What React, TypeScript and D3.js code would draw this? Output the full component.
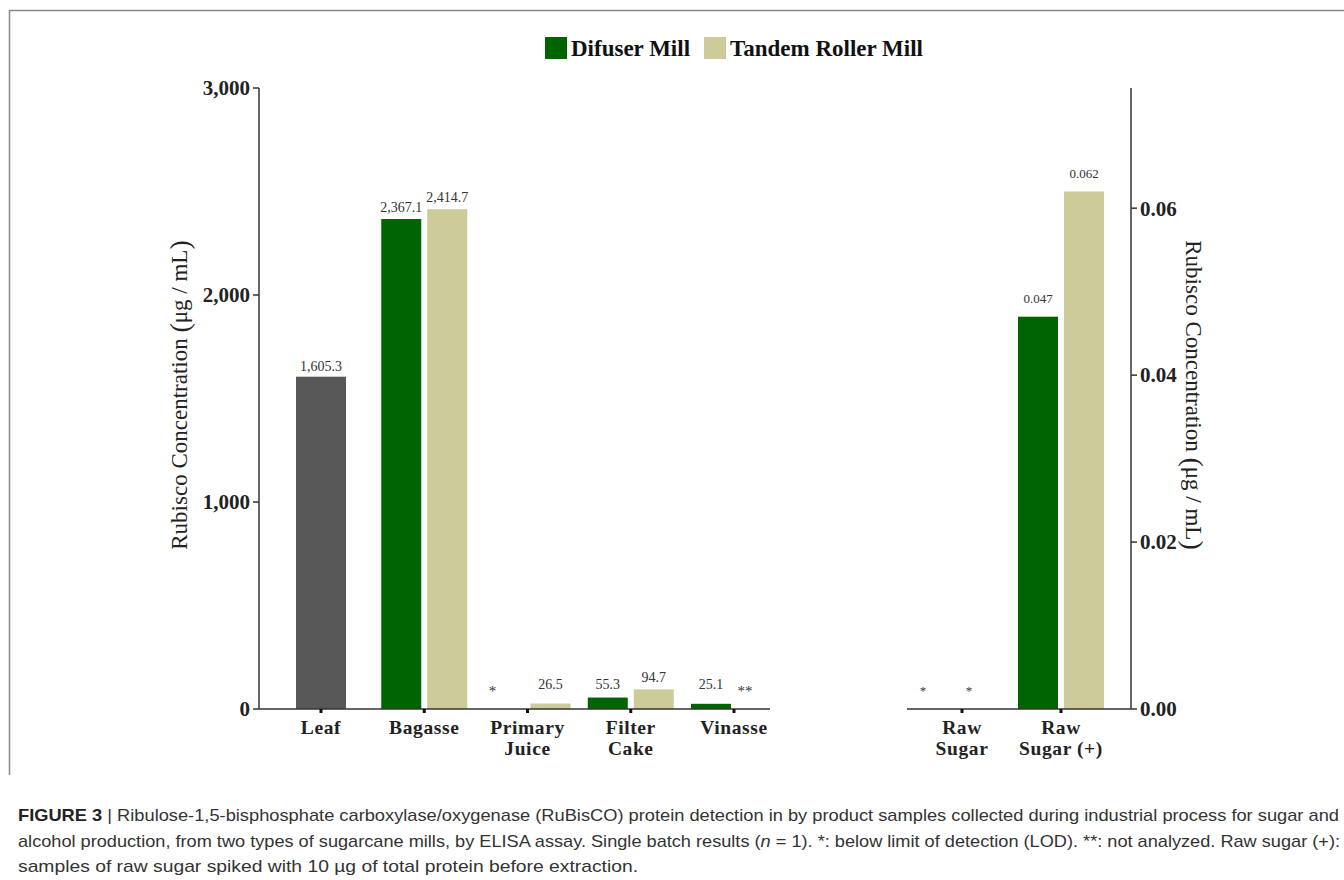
import React from "react";
import * as d3 from "d3";

const leftCategories = ["Leaf", "Bagasse", "Primary Juice", "Filter Cake", "Vinasse"];
const leftCategoryLines = [["Leaf"], ["Bagasse"], ["Primary", "Juice"], ["Filter", "Cake"], ["Vinasse"]];
const leafValues: (number | null)[] = [1605.3, null, null, null, null];
const difuserLeft: (number | null)[] = [null, 2367.1, null, 55.3, 25.1];
const tandemLeft: (number | null)[] = [null, 2414.7, 26.5, 94.7, null];
const difuserLeftNotes = ["", "", "*", "", ""];
const tandemLeftNotes = ["", "", "", "", "**"];

const rightCategories = ["Raw Sugar", "Raw Sugar (+)"];
const rightCategoryLines = [["Raw", "Sugar"], ["Raw", "Sugar (+)"]];
const difuserRight: (number | null)[] = [null, 0.047];
const tandemRight: (number | null)[] = [null, 0.062];
const difuserRightNotes = ["*", ""];
const tandemRightNotes = ["*", ""];

const leftTicks = [0, 1000, 2000, 3000];
const rightTicks = [0, 0.02, 0.04, 0.06];
const seriesNames = ["Difuser Mill", "Tandem Roller Mill"];

const captionLines = [
  "| Ribulose-1,5-bisphosphate carboxylase/oxygenase (RuBisCO) protein detection in by product samples collected during industrial process for sugar and",
  "alcohol production, from two types of sugarcane mills, by ELISA assay. Single batch results (",
  "samples of raw sugar spiked with 10 µg of total protein before extraction.",
];

const GREEN = "#006400";
const TAN = "#cdcb9a";
const GRAY = "#575757";
const AXIS = "#333";
const SERIF = "'Liberation Serif', 'Times New Roman', serif";
const SANS = "'Liberation Sans', Arial, sans-serif";

export default function App() {
  const y0 = 709;
  const yL = d3.scaleLinear().domain([0, 3000]).range([y0, 88]);
  const yR = d3.scaleLinear().domain([0, 0.0744]).range([y0, 88]);
  const xL = d3.scalePoint<string>().domain(leftCategories).range([321, 734]);
  const xR = d3.scalePoint<string>().domain(rightCategories).range([962, 1061]);
  const fmtL = d3.format(",.1f");
  const fmtR = d3.format(".3f");
  const fmtTickL = d3.format(",");
  const fmtTickR = d3.format(".2f");
  const bw = 40;
  const gap = 3;

  const bars: JSX.Element[] = [];
  const labels: JSX.Element[] = [];

  leftCategories.forEach((c, i) => {
    const cx = xL(c)!;
    const lv = leafValues[i];
    if (lv != null) {
      bars.push(<rect key={"leaf" + i} x={cx - 25} width={50} y={yL(lv)} height={y0 - yL(lv)} fill={GRAY} />);
      labels.push(<text key={"leafl" + i} x={cx} y={yL(lv) - 6} textAnchor="middle" fontSize={14} fill="#333">{fmtL(lv)}</text>);
    }
    const series = [
      { v: difuserLeft[i], note: difuserLeftNotes[i], fill: GREEN, x: cx - gap - bw },
      { v: tandemLeft[i], note: tandemLeftNotes[i], fill: TAN, x: cx + gap },
    ];
    series.forEach((s, j) => {
      if (s.v != null) {
        bars.push(<rect key={`l${i}-${j}`} x={s.x} width={bw} y={yL(s.v)} height={y0 - yL(s.v)} fill={s.fill} />);
        labels.push(<text key={`ll${i}-${j}`} x={s.x + bw / 2} y={Math.min(yL(s.v) - 7, y0 - 20)} textAnchor="middle" fontSize={14} fill="#333">{fmtL(s.v)}</text>);
      }
      if (s.note) {
        labels.push(<text key={`ln${i}-${j}`} x={s.x + bw / 2 - 12} y={y0 - 13} textAnchor="middle" fontSize={15} fill="#333">{s.note}</text>);
      }
    });
  });

  rightCategories.forEach((c, i) => {
    const cx = xR(c)!;
    const series = [
      { v: difuserRight[i], note: difuserRightNotes[i], fill: GREEN, x: cx - gap - bw },
      { v: tandemRight[i], note: tandemRightNotes[i], fill: TAN, x: cx + gap },
    ];
    series.forEach((s, j) => {
      if (s.v != null) {
        bars.push(<rect key={`r${i}-${j}`} x={s.x} width={bw} y={yR(s.v)} height={y0 - yR(s.v)} fill={s.fill} />);
        labels.push(<text key={`rl${i}-${j}`} x={s.x + bw / 2} y={yR(s.v) - 14} textAnchor="middle" fontSize={13} fill="#333">{fmtR(s.v)}</text>);
      }
      if (s.note) {
        labels.push(<text key={`rn${i}-${j}`} x={s.x + bw / 2 - 16} y={y0 - 14} textAnchor="middle" fontSize={13} fill="#333">{s.note}</text>);
      }
    });
  });

  const yTitle = (
    <>
      Rubisco Concentration <tspan fontSize={28} dy={2}>(</tspan>
      <tspan dy={-2}>μg / mL</tspan>
      <tspan fontSize={28} dy={2}>)</tspan>
    </>
  );

  return (
    <svg width={1344} height={880} style={{ position: "absolute", left: 0, top: 0, background: "#fff" }}>
      <rect x={0} y={0} width={1344} height={880} fill="#fff" />
      <path d="M9.5,775 V10.5 H1344" fill="none" stroke="#888" strokeWidth={1.5} />

      {/* legend */}
      <g fontFamily={SERIF} fontWeight="bold" fontSize={23} fill="#111">
        <rect x={545} y={37} width={22} height={22} fill={GREEN} />
        <text x={571} y={56}>{seriesNames[0]}</text>
        <rect x={704} y={37} width={22} height={22} fill={TAN} />
        <text x={730} y={56}>{seriesNames[1]}</text>
      </g>

      <g fontFamily={SERIF}>
        {bars}
        {labels}
      </g>

      {/* left axis */}
      <g fontFamily={SERIF} fontWeight="bold" fontSize={21} fill="#222">
        <line x1={259} x2={259} y1={yL(3000)} y2={y0} stroke={AXIS} strokeWidth={1.5} />
        {leftTicks.map((t) => (
          <g key={"lt" + t}>
            <line x1={253} x2={259} y1={yL(t)} y2={yL(t)} stroke={AXIS} strokeWidth={1.5} />
            <text x={250} y={yL(t)} dy="0.35em" textAnchor="end">{fmtTickL(t)}</text>
          </g>
        ))}
        <line x1={259} x2={770} y1={y0} y2={y0} stroke={AXIS} strokeWidth={1.5} />
      </g>
      <g fontFamily={SERIF} fontWeight="bold" fontSize={19.5} fill="#222" letterSpacing={0.6}>
        {leftCategories.map((c, i) => (
          <g key={"lx" + c}>
            <line x1={xL(c)!} x2={xL(c)!} y1={y0} y2={y0 + 4} stroke="#111" strokeWidth={3} />
            {leftCategoryLines[i].map((ln, k) => (
              <text key={k} x={xL(c)!} y={y0 + 25 + k * 21} textAnchor="middle">{ln}</text>
            ))}
          </g>
        ))}
      </g>

      {/* right axis */}
      <g fontFamily={SERIF} fontWeight="bold" fontSize={21} fill="#222">
        <line x1={1131} x2={1131} y1={88} y2={y0} stroke={AXIS} strokeWidth={1.5} />
        {rightTicks.map((t) => (
          <g key={"rt" + t}>
            <line x1={1131} x2={1137} y1={yR(t)} y2={yR(t)} stroke={AXIS} strokeWidth={1.5} />
            <text x={1140} y={yR(t)} dy="0.35em" textAnchor="start">{fmtTickR(t)}</text>
          </g>
        ))}
        <line x1={907} x2={1131} y1={y0} y2={y0} stroke={AXIS} strokeWidth={1.5} />
      </g>
      <g fontFamily={SERIF} fontWeight="bold" fontSize={19.5} fill="#222" letterSpacing={0.6}>
        {rightCategories.map((c, i) => (
          <g key={"rx" + c}>
            <line x1={xR(c)!} x2={xR(c)!} y1={y0} y2={y0 + 4} stroke="#111" strokeWidth={3} />
            {rightCategoryLines[i].map((ln, k) => (
              <text key={k} x={xR(c)!} y={y0 + 25 + k * 21} textAnchor="middle">{ln}</text>
            ))}
          </g>
        ))}
      </g>

      {/* axis titles */}
      <text transform="translate(187,395) rotate(-90)" textAnchor="middle" fontFamily={SERIF} fontSize={23} fill="#222">{yTitle}</text>
      <text transform="translate(1186,395) rotate(90)" textAnchor="middle" fontFamily={SERIF} fontSize={23} fill="#222">{yTitle}</text>

      {/* caption */}
      <g fontFamily={SANS} fontSize={17} fill="#333">
        <text x={18} y={821} textLength={1321} lengthAdjust="spacingAndGlyphs">
          <tspan fontWeight="bold" fill="#222">FIGURE 3 </tspan>
          {captionLines[0]}
        </text>
        <text x={18} y={847} textLength={1322} lengthAdjust="spacingAndGlyphs">
          {captionLines[1]}
          <tspan fontStyle="italic">n</tspan>
          {" = 1). *: below limit of detection (LOD). **: not analyzed. Raw sugar (+):"}
        </text>
        <text x={18} y={872} textLength={620} lengthAdjust="spacingAndGlyphs">{captionLines[2]}</text>
      </g>
    </svg>
  );
}
